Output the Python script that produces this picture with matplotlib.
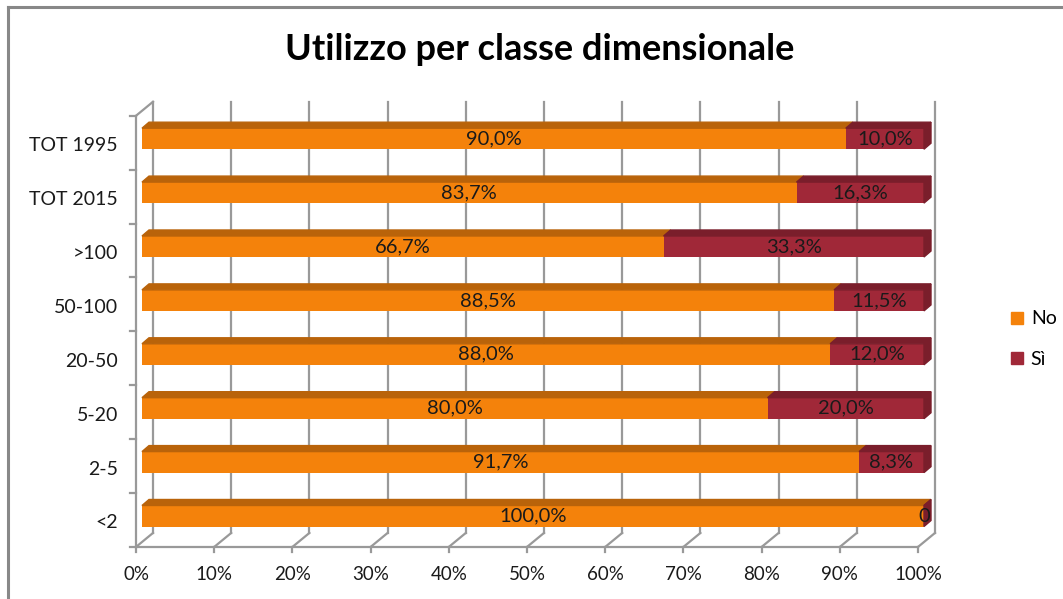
import matplotlib.pyplot as plt
from matplotlib.patches import Polygon
from matplotlib.lines import Line2D

plt.rcParams['font.family'] = ['Lato', 'DejaVu Sans']

categories = ['<2', '2-5', '5-20', '20-50', '50-100', '>100', 'TOT 2015', 'TOT 1995']
no_values = [100.0, 91.7, 80.0, 88.0, 88.5, 66.7, 83.7, 90.0]
si_values = [0.0, 8.3, 20.0, 12.0, 11.5, 33.3, 16.3, 10.0]
x_ticks = [0, 10, 20, 30, 40, 50, 60, 70, 80, 90, 100]

ORANGE = '#F4820B'
ORANGE_TOP = '#B9630A'
RED = '#A02838'
RED_TOP = '#7A1E2B'
GRID = '#999999'

W, H = 1063, 599
# bar plane mapping (pixels)
PX0, PX_PER_X = 142, 7.82
PY0, PX_PER_Y = 516, 53.9


def fmt(v):
    return '0' if v == 0 else f'{v:.1f}%'.replace('.', ',')


def main():
    fig = plt.figure(figsize=(W / 100, H / 100), dpi=100)
    left_px, right_px, top_px, bottom_px = 100, 960, 90, 565
    ax = fig.add_axes([left_px / W, (H - bottom_px) / H,
                       (right_px - left_px) / W, (bottom_px - top_px) / H])
    ax.set_xlim((left_px - PX0) / PX_PER_X, (right_px - PX0) / PX_PER_X)
    ax.set_ylim((PY0 - bottom_px) / PX_PER_Y, (PY0 - top_px) / PX_PER_Y)
    ax.axis('off')

    def dxy(px, py):
        return px / PX_PER_X, py / PX_PER_Y

    fdx, fdy = dxy(-6, -4)   # front plane
    bdx, bdy = dxy(11, 10)   # back wall
    tdx, tdy = dxy(7, 6)     # bar depth
    n = len(categories)
    y_lo, y_hi = -0.5, n - 0.5

    # back wall gridlines and floor
    for x in x_ticks:
        ax.plot([x + bdx, x + bdx], [y_lo + bdy, y_hi + bdy], color=GRID, lw=1.6, zorder=1)
        ax.plot([x + bdx, x + fdx], [y_lo + bdy, y_lo + fdy], color=GRID, lw=1.6, zorder=1)
        tx, ty = dxy(0, 5)
        ax.plot([x + fdx, x + fdx], [y_lo + fdy, y_lo + fdy - ty], color=GRID, lw=1.6, zorder=1)
        ax.text(x + fdx, y_lo + fdy - dxy(0, 28)[1], f'{x}%', ha='center', va='center',
                fontsize=13.5, color='#1a1a1a')
    # front axes
    ax.plot([fdx, 100 + fdx], [y_lo + fdy, y_lo + fdy], color=GRID, lw=1.6, zorder=1)
    ax.plot([fdx, fdx], [y_lo + fdy, y_hi + fdy], color=GRID, lw=1.6, zorder=1)
    ax.plot([fdx, bdx], [y_hi + fdy, y_hi + bdy], color=GRID, lw=1.6, zorder=1)
    for i in range(n + 1):
        yy = y_lo + i + fdy
        ax.plot([fdx - dxy(6, 0)[0], fdx], [yy, yy], color=GRID, lw=1.6, zorder=1)
    for i, cat in enumerate(categories):
        ax.text(fdx - dxy(18, 0)[0], i + fdy - dxy(0, 3)[1], cat, ha='right', va='center',
                fontsize=14, color='#1a1a1a')

    # bars
    h = 0.39
    ys = list(range(n))
    ax.barh(ys, no_values, height=h, color=ORANGE, zorder=3)
    ax.barh(ys, si_values, left=no_values, height=h, color=RED, zorder=3)
    for y, a, b in zip(ys, no_values, si_values):
        top = y + h / 2
        for x0, w, c in [(0, a, ORANGE_TOP), (a, b, RED_TOP)]:
            ax.add_patch(Polygon([(x0, top), (x0 + w, top), (x0 + w + tdx, top + tdy),
                                  (x0 + tdx, top + tdy)], closed=True, color=c, zorder=3))
        end = a + b
        ax.add_patch(Polygon([(end, top), (end + tdx, top + tdy), (end + tdx, top + tdy - h),
                              (end, top - h)], closed=True, color=RED_TOP, zorder=3))
        ax.text(a / 2, y, fmt(a), ha='center', va='center', fontsize=14.5, color='#1a1a1a', zorder=4)
        ax.text(a + b / 2, y, fmt(b), ha='center', va='center', fontsize=14.5, color='#1a1a1a', zorder=4)

    fig.text(540 / W, 1 - 49 / H, 'Utilizzo per classe dimensionale', ha='center', va='center',
             fontsize=26, fontweight='bold')

    handles = [Line2D([], [], marker='s', ls='', color=ORANGE, markersize=8),
               Line2D([], [], marker='s', ls='', color=RED, markersize=8)]
    fig.legend(handles, ['No', 'Sì'], loc='center left', bbox_to_anchor=(990 / W, 1 - 339 / H),
               frameon=False, fontsize=14, handletextpad=0.2, labelspacing=1.2,
               handlelength=1.0)

    fig.add_artist(Line2D([8 / W, 8 / W], [0, 1 - 7 / H], color='#888888', lw=2.2))
    fig.add_artist(Line2D([8 / W, 1], [1 - 7 / H, 1 - 7 / H], color='#888888', lw=2.2))

    fig.savefig('out.png', dpi=100)


if __name__ == '__main__':
    main()
